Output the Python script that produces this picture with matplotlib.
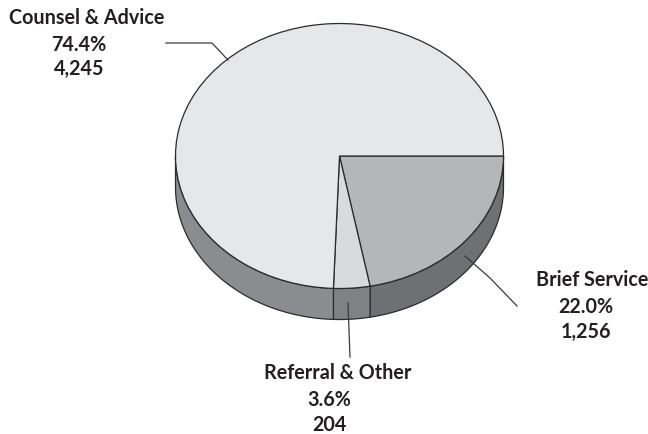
import numpy as np
import matplotlib
matplotlib.use("Agg")
import matplotlib.pyplot as plt
from matplotlib.patches import Wedge, Polygon
from matplotlib.transforms import Affine2D

# --- DATA ---
categories = ["Brief Service", "Referral & Other", "Counsel & Advice"]
counts = [1256, 204, 4245]
count_labels = ["1,256", "204", "4,245"]
pct_labels = ["22.0%", "3.6%", "74.4%"]

# --- STYLE ---
top_colors = ["#b5b6b9", "#d9dadc", "#e6e7e8"]
side_colors = ["#6f7073", "#808184", "#8b8c8f"]
edge = "#2b2b2d"
text_col = "#231f20"
cx, cy, rx, ry, depth = 339.5, 157, 164, 132.5, 31

plt.rcParams['font.family'] = ['Lato', 'DejaVu Sans']

fig = plt.figure(figsize=(6.48, 4.35), dpi=100)
ax = fig.add_axes([0, 0, 1, 1])
ax.set_xlim(0, 648)
ax.set_ylim(435, 0)
ax.axis("off")

# slice angles, clockwise from 3 o'clock (y axis is inverted)
shares = np.array(counts) / sum(counts)
edges = np.concatenate([[0], np.cumsum(shares) * 360])

# side walls, only the front half is visible
for i in range(len(counts)):
    a0, a1 = edges[i], min(edges[i + 1], 180)
    if a0 >= 180:
        continue
    t = np.radians(np.linspace(a0, a1, 100))
    x = cx + rx * np.cos(t)
    y = cy + ry * np.sin(t)
    pts = np.vstack([np.column_stack([x, y]),
                     np.column_stack([x, y + depth])[::-1]])
    ax.add_patch(Polygon(pts, closed=True, facecolor=side_colors[i],
                         edgecolor=edge, linewidth=0.9, joinstyle="round", zorder=1))

# top surface
squash = Affine2D().scale(1, ry / rx).translate(cx, cy) + ax.transData
for i in range(len(counts)):
    w = Wedge((0, 0), rx, edges[i], edges[i + 1], facecolor=top_colors[i],
              edgecolor=edge, linewidth=0.9, zorder=2)
    w.set_transform(squash)
    ax.add_patch(w)

# leader lines
ax.plot([166, 212, 228], [44, 44, 61], color="#3a3a3c", lw=0.9, zorder=3)
ax.plot([465, 490, 517], [257, 279, 307], color="#3a3a3c", lw=0.9, zorder=3)
ax.plot([348, 350], [304, 358], color="#3a3a3c", lw=0.9, zorder=3)

# labels, the numbers sit a bit left of the title in the original
title_x = [592, 338, 87]
num_x = [586, 329, 79]
label_y = [(280, 307, 332), (373, 400, 425), (18, 45, 69)]
for i in range(len(categories)):
    ax.text(title_x[i], label_y[i][0], categories[i], ha="center", va="center",
            fontsize=14.2, fontweight="bold", color=text_col)
    ax.text(num_x[i], label_y[i][1], pct_labels[i], ha="center", va="center",
            fontsize=14.2, fontweight="bold", color=text_col)
    ax.text(num_x[i], label_y[i][2], count_labels[i], ha="center", va="center",
            fontsize=14.2, fontweight="bold", color=text_col)

fig.savefig("out.png", dpi=100)
